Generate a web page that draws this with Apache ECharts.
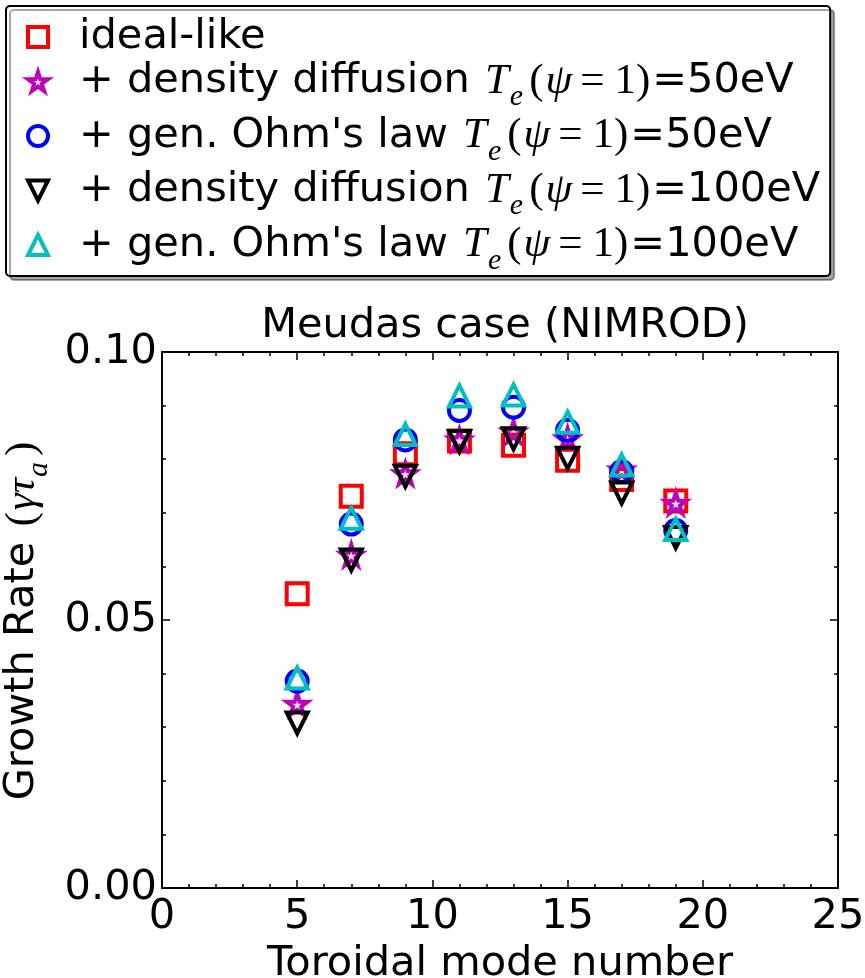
<!DOCTYPE html>
<html>
<head>
<meta charset="utf-8">
<script src="https://cdn.jsdelivr.net/npm/echarts@6/dist/echarts.min.js"></script>
<style>
html,body{margin:0;padding:0;background:#fff;}
#chart{width:865px;height:978px;}
</style>
</head>
<body>
<div id="chart"></div>
<script>
// ---- data ----
var modes = [5, 7, 9, 11, 13, 15, 17, 19];
var idealLike = [0.0549, 0.0731, 0.0810, 0.0834, 0.0826, 0.0798, 0.0762, 0.0722];
var densDiff50 = [0.0343, 0.0621, 0.0773, 0.0836, 0.0851, 0.0838, 0.0780, 0.0718];
var genOhm50 = [0.0386, 0.0679, 0.0836, 0.0891, 0.0897, 0.0854, 0.0777, 0.0667];
var densDiff100 = [0.0308, 0.0612, 0.0768, 0.0833, 0.0838, 0.0802, 0.0737, 0.0654];
var genOhm100 = [0.0392, 0.0690, 0.0846, 0.0918, 0.0920, 0.0869, 0.0789, 0.0669];
var seriesNames = ['ideal-like', 'dd50', 'ohm50', 'dd100', 'ohm100'];
var legendPrefix = ['ideal-like', '+ density diffusion', '+ gen. Ohm\'s law', '+ density diffusion', '+ gen. Ohm\'s law'];
var legendSuffix = ['', '=50eV', '=50eV', '=100eV', '=100eV'];
var xTicks = [0, 5, 10, 15, 20, 25];
var yTicks = [0.00, 0.05, 0.10];

function pairs(ys) { return modes.map(function (m, i) { return [m, ys[i]]; }); }

// star path (matplotlib '*' marker shape)
function starPath() {
  var pts = [];
  for (var k = 0; k < 10; k++) {
    var r = (k % 2 === 0) ? 1 : 0.381966;
    var a = (-90 + 36 * k) * Math.PI / 180;
    pts.push((r * Math.cos(a)).toFixed(4) + ' ' + (r * Math.sin(a)).toFixed(4));
  }
  return 'path://M' + pts.join(' L') + ' Z';
}
var downTri = 'path://M-1 -1 L1 -1 L0 1 Z';

var FONT = 'DejaVu Sans';
var FS = 41.5;
var chart = echarts.init(document.getElementById('chart'), null, {renderer: 'canvas'});

function mk(name, data, color, symbol) {
  return {
    name: name, type: 'scatter', data: pairs(data),
    symbol: symbol, symbolSize: 21,
    itemStyle: {color: 'rgba(255,255,255,0)', borderColor: color, borderWidth: 4, opacity: 1},
    emphasis: {disabled: true},
    xAxisIndex: 0, yAxisIndex: 0
  };
}

var rich = {
  n: {fontFamily: FONT, fontSize: FS, lineHeight: 44, color: '#000'},
  i: {fontFamily: FONT, fontSize: FS, lineHeight: 58, color: '#000'},
  t: {fontFamily: 'Liberation Serif', fontStyle: 'italic', fontSize: 43, lineHeight: 44, color: '#000', padding: [0, 0, 0, 15]},
  m: {fontFamily: 'Liberation Serif', fontStyle: 'italic', fontSize: 43, lineHeight: 44, color: '#000'},
  r: {fontFamily: 'Liberation Serif', fontSize: 43, lineHeight: 44, color: '#000', padding: [0, 2, 0, 2]},
  q: {fontFamily: 'Liberation Serif', fontSize: 43, lineHeight: 44, color: '#000', padding: [0, 8, 0, 8]},
  s: {fontFamily: 'Liberation Serif', fontStyle: 'italic', fontSize: 30, lineHeight: 12, height: 12, verticalAlign: 'bottom', padding: [0, 4, 0, 1], color: '#000'}
};

var option = {
  animation: false,
  backgroundColor: '#fff',
  title: {
    text: 'Meudas case (NIMROD)', left: 500, top: 300, textAlign: 'center',
    textStyle: {fontFamily: FONT, fontSize: FS, fontWeight: 'normal', color: '#000'}
  },
  legend: {
    left: 6, top: 6, orient: 'vertical',
    padding: [10, 10, 0, 20],
    itemGap: 2, itemWidth: 20, itemHeight: 20,
    itemStyle: {borderWidth: 4},
    backgroundColor: '#fff', borderColor: '#000', borderWidth: 2, borderRadius: 4,
    shadowColor: 'rgba(0,0,0,0.35)', shadowBlur: 0, shadowOffsetX: 4, shadowOffsetY: 4,
    selectedMode: false,
    data: seriesNames,
    formatter: function (name) {
      var i = seriesNames.indexOf(name);
      if (i === 0) return '{i|' + legendPrefix[0] + '}';
      return '{n|' + legendPrefix[i] + '}{t|T}{s|e}{r|(}{m|ψ}{q|=}{r|1)}{n|' + legendSuffix[i] + '}';
    },
    textStyle: {fontFamily: FONT, fontSize: FS, color: '#000', padding: [0, 0, 0, 26], rich: rich}
  },
  grid: {left: 162, right: 27, top: 352, bottom: 90, containLabel: false, outerBoundsMode: 'none'},
  xAxis: [{
    type: 'value', min: 0, max: 25, interval: 5, position: 'bottom',
    name: 'Toroidal mode number', nameLocation: 'middle', nameGap: 50,
    nameTextStyle: {fontFamily: FONT, fontSize: FS, color: '#000'},
    axisLine: {show: true, onZero: false, lineStyle: {color: '#000', width: 2}},
    axisTick: {show: true, inside: true, length: 8, lineStyle: {color: '#000', width: 1.5}},
    minorTick: {show: true, splitNumber: 5, length: 4, lineStyle: {color: '#000', width: 1.5}},
    splitLine: {show: false},
    axisLabel: {fontFamily: FONT, fontSize: FS, color: '#000', margin: 8,
      formatter: function (v) { return xTicks.indexOf(v) >= 0 ? String(v) : ''; }}
  }, {
    type: 'value', min: 0, max: 25, interval: 5, position: 'top',
    axisLine: {show: true, onZero: false, lineStyle: {color: '#000', width: 2}},
    axisTick: {show: true, inside: true, length: 8, lineStyle: {color: '#000', width: 1.5}},
    minorTick: {show: true, splitNumber: 5, length: 4, lineStyle: {color: '#000', width: 1.5}},
    splitLine: {show: false}, axisLabel: {show: false}
  }],
  yAxis: [{
    type: 'value', min: 0, max: 0.1, interval: 0.05, position: 'left',
    name: '{n|Growth Rate }{r|(}{m|γτ}{s|a}{r|)}', nameLocation: 'middle', nameGap: 104,
    nameTextStyle: {fontFamily: FONT, fontSize: FS, color: '#000', rich: rich},
    axisLine: {show: true, onZero: false, lineStyle: {color: '#000', width: 2}},
    axisTick: {show: true, inside: true, length: 8, lineStyle: {color: '#000', width: 1.5}},
    minorTick: {show: true, splitNumber: 5, length: 4, lineStyle: {color: '#000', width: 1.5}},
    splitLine: {show: false},
    axisLabel: {fontFamily: FONT, fontSize: FS, color: '#000', margin: 5,
      formatter: function (v) { return yTicks.indexOf(+v.toFixed(2)) >= 0 ? v.toFixed(2) : ''; }}
  }, {
    type: 'value', min: 0, max: 0.1, interval: 0.05, position: 'right',
    axisLine: {show: true, onZero: false, lineStyle: {color: '#000', width: 2}},
    axisTick: {show: true, inside: true, length: 8, lineStyle: {color: '#000', width: 1.5}},
    minorTick: {show: true, splitNumber: 5, length: 4, lineStyle: {color: '#000', width: 1.5}},
    splitLine: {show: false}, axisLabel: {show: false}
  }],
  series: [
    mk('ideal-like', idealLike, '#ff0000', 'rect'),
    mk('dd50', densDiff50, '#bf00bf', starPath()),
    mk('ohm50', genOhm50, '#0000ff', 'circle'),
    mk('dd100', densDiff100, '#000000', downTri),
    mk('ohm100', genOhm100, '#00bfbf', 'triangle')
  ]
};
chart.setOption(option);
</script>
</body>
</html>
